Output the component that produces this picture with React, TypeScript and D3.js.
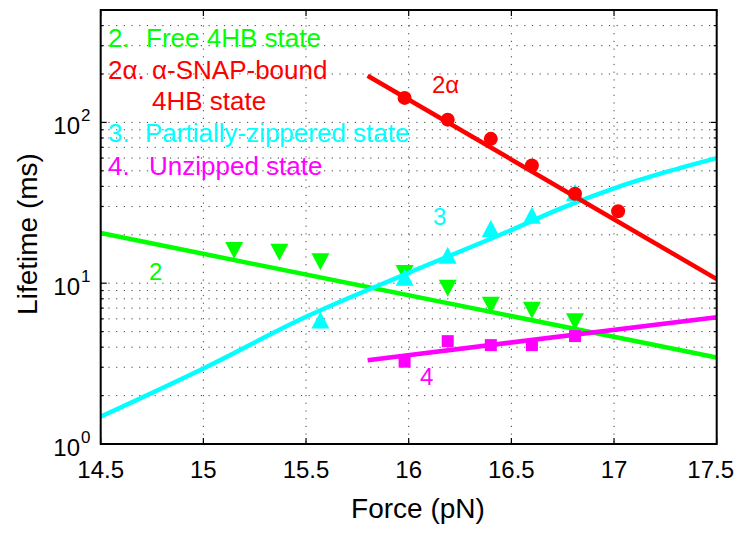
import React from "react";
import * as d3 from "d3";

// canvas + plot frame
const W = 737;
const H = 533;
const frame = { left: 100.7, right: 716.7, top: 10, bottom: 444 };
const FONT = "'Liberation Sans', Arial, Helvetica, sans-serif";

// axis ticks
const xTicks = [14.5, 15, 15.5, 16, 16.5, 17, 17.5];
const yMajor = [1, 10, 100];
const yExponents = ["0", "1", "2"];
const yMinor = [2, 3, 4, 5, 6, 7, 8, 9, 20, 30, 40, 50, 60, 70, 80, 90, 200, 300, 400];

// state 2 (free 4HB) – green down triangles
const force2 = [15.15, 15.37, 15.57, 15.98, 16.19, 16.4, 16.6, 16.81];
const life2 = [16.0, 15.6, 13.6, 11.5, 9.3, 7.3, 6.8, 5.75];
// state 2α (α-SNAP-bound 4HB) – red circles
const force2a = [15.98, 16.19, 16.4, 16.6, 16.81, 17.02];
const life2a = [142, 104, 79, 54, 36, 28];
// state 3 (partially zippered) – cyan up triangles
const force3 = [15.57, 15.98, 16.19, 16.4, 16.6, 16.81];
const life3 = [5.9, 10.9, 14.9, 21.9, 26.5, 36.7];
// state 4 (unzipped) – magenta squares
const force4 = [15.98, 16.19, 16.4, 16.6, 16.81];
const life4 = [3.25, 4.36, 4.12, 4.12, 4.69];

// fitted curves
const fitForce2 = [14.5, 17.5];
const fitLife2 = [20.5, 3.45];
const fitForce2a = [15.8, 17.5];
const fitLife2a = [195, 10.6];
const fitForce3 = [14.5, 15.0, 15.5, 16.0, 16.5, 16.75, 17.0, 17.25, 17.5];
const fitLife3 = [1.48, 2.95, 6.18, 11.6, 21.4, 29.5, 38.9, 49.0, 60];
const fitForce4 = [15.8, 17.5];
const fitLife4 = [3.32, 6.15];

const GREEN = "#00ff00";
const RED = "#ff0000";
const CYAN = "#00ffff";
const MAGENTA = "#ff00ff";

const x = d3.scaleLinear().domain([14.5, 17.5]).range([frame.left, frame.right]);
const y = d3.scaleLog().domain([1, 500]).range([frame.bottom, frame.top]);

const zip = (a: number[], b: number[]) => a.map((v, i) => [v, b[i]] as [number, number]);

const line = d3
  .line<[number, number]>()
  .x((d) => x(d[0]))
  .y((d) => y(d[1]))
  .curve(d3.curveMonotoneX);

const tri = (up: boolean) => {
  const w = 9, h = 8.5;
  return up ? `M0,${-h}L${w},${h}L${-w},${h}Z` : `M0,${h}L${w},${-h}L${-w},${-h}Z`;
};

type Marker = "down" | "up" | "square" | "circle";

const Mark = ({ kind, cx, cy, color }: { kind: Marker; cx: number; cy: number; color: string }) => {
  if (kind === "circle") return <circle cx={cx} cy={cy} r={7} fill={color} />;
  if (kind === "square") return <rect x={cx - 6} y={cy - 6} width={12} height={12} fill={color} />;
  return <path d={tri(kind === "up")} transform={`translate(${cx},${cy})`} fill={color} />;
};

const App = () => {
  // drawing order as in the original figure: green, cyan, magenta, red
  const series = [
    { f: force2, l: life2, ff: fitForce2, fl: fitLife2, c: GREEN, m: "down" as Marker },
    { f: force3, l: life3, ff: fitForce3, fl: fitLife3, c: CYAN, m: "up" as Marker },
    { f: force4, l: life4, ff: fitForce4, fl: fitLife4, c: MAGENTA, m: "square" as Marker },
    { f: force2a, l: life2a, ff: fitForce2a, fl: fitLife2a, c: RED, m: "circle" as Marker },
  ];

  const legend = [
    { n: "2.", t: "Free 4HB state", c: GREEN, y: 47, tx: 146 },
    { n: "2α.", t: "α-SNAP-bound", c: RED, y: 79, tx: 152 },
    { n: "", t: "4HB state", c: RED, y: 110, tx: 152 },
    { n: "3.", t: "Partially-zippered state", c: CYAN, y: 142, tx: 145 },
    { n: "4.", t: "Unzipped state", c: MAGENTA, y: 175, tx: 149 },
  ];

  return (
    <svg
      width={W}
      height={H}
      style={{ position: "absolute", left: 0, top: 0, background: "#fff" }}
      fontFamily={FONT}
    >
      <defs>
        <clipPath id="plotClip">
          <rect x={frame.left} y={frame.top} width={frame.right - frame.left} height={frame.bottom - frame.top} />
        </clipPath>
      </defs>
      <rect width={W} height={H} fill="#fff" />

      {/* dotted grid */}
      <g stroke="#444" strokeWidth={1} strokeDasharray="1.2,6.5">
        {xTicks.slice(1, -1).map((t) => (
          <line key={"gx" + t} x1={x(t)} x2={x(t)} y1={frame.top} y2={frame.bottom} />
        ))}
        {yMajor.concat(yMinor).filter((v) => v > 1).map((v) => (
          <line key={"gy" + v} x1={frame.left} x2={frame.right} y1={y(v)} y2={y(v)} />
        ))}
      </g>

      {/* ticks inside the frame */}
      <g stroke="#000" strokeWidth={1.2}>
        {xTicks.map((t) => (
          <g key={"tx" + t}>
            <line x1={x(t)} x2={x(t)} y1={frame.bottom} y2={frame.bottom - 6} />
            <line x1={x(t)} x2={x(t)} y1={frame.top} y2={frame.top + 6} />
          </g>
        ))}
        {yMajor.map((v) => (
          <g key={"ty" + v}>
            <line x1={frame.left} x2={frame.left + 6} y1={y(v)} y2={y(v)} />
            <line x1={frame.right} x2={frame.right - 6} y1={y(v)} y2={y(v)} />
          </g>
        ))}
        {yMinor.map((v) => (
          <g key={"tm" + v}>
            <line x1={frame.left} x2={frame.left + 3} y1={y(v)} y2={y(v)} />
            <line x1={frame.right} x2={frame.right - 3} y1={y(v)} y2={y(v)} />
          </g>
        ))}
      </g>

      {/* data + fitted lines */}
      {series.map((s, i) => (
        <g key={"s" + i}>
          {zip(s.f, s.l).map((d, j) => (
            <Mark key={j} kind={s.m} cx={x(d[0])} cy={y(d[1])} color={s.c} />
          ))}
          <path
            d={line(zip(s.ff, s.fl)) || ""}
            stroke={s.c}
            strokeWidth={4.5}
            fill="none"
            clipPath="url(#plotClip)"
          />
        </g>
      ))}

      {/* curve labels */}
      <g fontSize={24}>
        <text x={149} y={280} fill={GREEN}>2</text>
        <text x={432} y={93} fill={RED}>2α</text>
        <text x={433} y={225} fill={CYAN}>3</text>
        <text x={420} y={385} fill={MAGENTA}>4</text>
      </g>

      {/* legend text */}
      <g fontSize={26}>
        {legend.map((r, i) => (
          <g key={"lg" + i} fill={r.c}>
            {r.n && <text x={108} y={r.y}>{r.n}</text>}
            <text x={r.tx} y={r.y}>{r.t}</text>
          </g>
        ))}
      </g>

      {/* frame */}
      <rect
        x={frame.left}
        y={frame.top}
        width={frame.right - frame.left}
        height={frame.bottom - frame.top}
        fill="none"
        stroke="#000"
        strokeWidth={2}
      />

      {/* x tick labels */}
      <g fontSize={24} fill="#000">
        {xTicks.map((t, i) => {
          const last = i === xTicks.length - 1;
          return (
            <text key={"xl" + t} x={last ? W - 3 : x(t)} y={478} textAnchor={last ? "end" : "middle"}>
              {String(t)}
            </text>
          );
        })}
      </g>

      {/* y tick labels */}
      <g fill="#000">
        {yMajor.map((v, i) => (
          <g key={"yl" + v}>
            <text x={80} y={y(v) + 12} fontSize={24} textAnchor="end">10</text>
            <text x={81} y={y(v) - 1} fontSize={17}>{yExponents[i]}</text>
          </g>
        ))}
      </g>

      {/* axis titles */}
      <text x={418} y={518} fontSize={28} textAnchor="middle" fill="#000">Force (pN)</text>
      <text
        transform={`translate(37,${234}) rotate(-90)`}
        fontSize={28}
        textAnchor="middle"
        fill="#000"
      >
        Lifetime (ms)
      </text>
    </svg>
  );
};

export default App;
